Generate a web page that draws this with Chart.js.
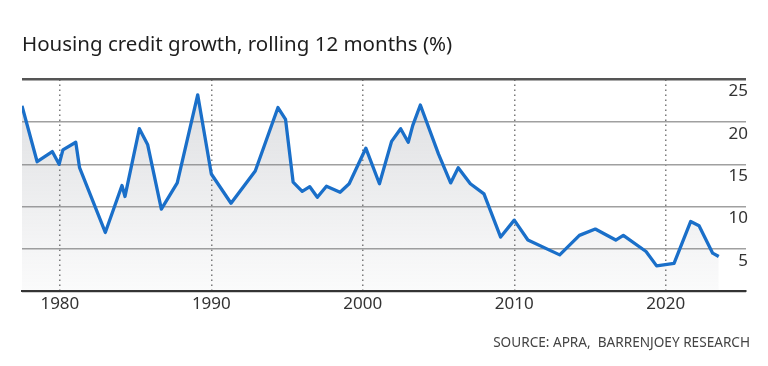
<!DOCTYPE html>
<html>
<head>
<meta charset="utf-8">
<script src="https://cdn.jsdelivr.net/npm/chart.js@4/dist/chart.umd.min.js"></script>
<style>
  html, body { margin: 0; padding: 0; background: #ffffff; }
  #wrap { width: 768px; height: 366px; position: relative; }
</style>
</head>
<body>
<div id="wrap"><canvas id="c"></canvas></div>
<script>
const titleText = "Housing credit growth, rolling 12 months (%)";
const sourceText = "SOURCE: APRA,  BARRENJOEY RESEARCH";

const years = [1977.5, 1978.5, 1979.5, 1979.95, 1980.2, 1981.05, 1981.3, 1983.0, 1984.1, 1984.3,
  1985.25, 1985.8, 1986.7, 1987.75, 1989.1, 1990.0, 1991.3, 1992.9, 1994.4, 1994.9,
  1995.4, 1996.0, 1996.5, 1997.0, 1997.6, 1998.5, 1999.1, 2000.2, 2001.1, 2001.9,
  2002.5, 2003.0, 2003.3, 2003.8, 2005.0, 2005.8, 2006.3, 2007.1, 2008.0, 2009.1,
  2010.0, 2010.9, 2013.0, 2014.3, 2015.35, 2016.7, 2017.2, 2018.7, 2019.4, 2020.55,
  2021.65, 2022.2, 2023.1, 2023.5];
const growth = [21.9, 15.3, 16.5, 15.0, 16.7, 17.6, 14.6, 6.95, 12.5, 11.2,
  19.2, 17.3, 9.7, 12.8, 23.2, 13.85, 10.4, 14.2, 21.7, 20.3,
  12.9, 11.8, 12.35, 11.1, 12.4, 11.7, 12.7, 16.9, 12.7, 17.7,
  19.2, 17.6, 19.6, 22.0, 16.2, 12.8, 14.6, 12.7, 11.5, 6.4,
  8.4, 6.05, 4.3, 6.6, 7.35, 6.05, 6.6, 4.7, 3.0, 3.3,
  8.25, 7.75, 4.5, 4.1];
const xTicks = [1980, 1990, 2000, 2010, 2020];
const yTicks = [0, 5, 10, 15, 20, 25];

const points = years.map((y, i) => ({ x: y, y: growth[i] }));

function fillGradient(ctx) {
  const chart = ctx.chart;
  const ca = chart.chartArea;
  if (!ca) return 'rgba(120,125,135,0.15)';
  const g = chart.ctx.createLinearGradient(0, ca.top, 0, ca.bottom);
  g.addColorStop(0, 'rgba(120,125,135,0.26)');
  g.addColorStop(1, 'rgba(120,125,135,0.03)');
  return g;
}

new Chart(document.getElementById('c'), {
  type: 'line',
  data: {
    datasets: [{
      data: points,
      borderColor: '#1a6fc9',
      borderWidth: 3.3,
      borderJoinStyle: 'round',
      pointRadius: 0,
      tension: 0,
      fill: 'origin',
      backgroundColor: fillGradient
    }]
  },
  options: {
    responsive: true,
    maintainAspectRatio: false,
    animation: false,
    layout: { padding: { left: 22, right: 18, top: 0, bottom: 7 } },
    plugins: {
      legend: { display: false },
      tooltip: { enabled: false },
      title: {
        display: true,
        text: titleText,
        align: 'start',
        color: '#1e1e1e',
        font: { family: 'Noto Sans', size: 20.5, weight: 'normal' },
        padding: { top: 33, bottom: 22 }
      },
      subtitle: {
        display: true,
        text: sourceText,
        position: 'bottom',
        align: 'end',
        color: '#444444',
        font: { family: 'Noto Sans', size: 13.6, weight: 'normal' },
        padding: { top: 17, bottom: 8 }
      }
    },
    scales: {
      x: {
        type: 'linear',
        min: 1977.5,
        max: 2025.3,
        afterBuildTicks: (scale) => { scale.ticks = xTicks.map(v => ({ value: v })); },
        ticks: {
          color: '#333333',
          font: { family: 'Noto Sans', size: 17 },
          padding: 3,
          maxRotation: 0,
          callback: (v) => String(v)
        },
        grid: {
          drawTicks: false,
          color: '#7a7a7a',
          lineWidth: 1.5
        },
        border: { display: true, color: '#333333', width: 2, dash: [1.5, 3.5] }
      },
      y: {
        type: 'linear',
        position: 'right',
        min: 0,
        max: 25,
        afterBuildTicks: (scale) => { scale.ticks = yTicks.map(v => ({ value: v })); },
        ticks: {
          mirror: true,
          padding: 2,
          labelOffset: 12,
          color: '#333333',
          font: { family: 'Noto Sans', size: 17 },
          callback: (v) => (v === 0 ? '' : String(v))
        },
        grid: {
          drawTicks: false,
          color: (c) => (c.tick && c.tick.value === 25 ? '#555555' : '#a0a0a0'),
          lineWidth: (c) => (c.tick && c.tick.value === 25 ? 2.5 : 1.5)
        },
        border: { display: false }
      }
    }
  }
});
</script>
</body>
</html>
